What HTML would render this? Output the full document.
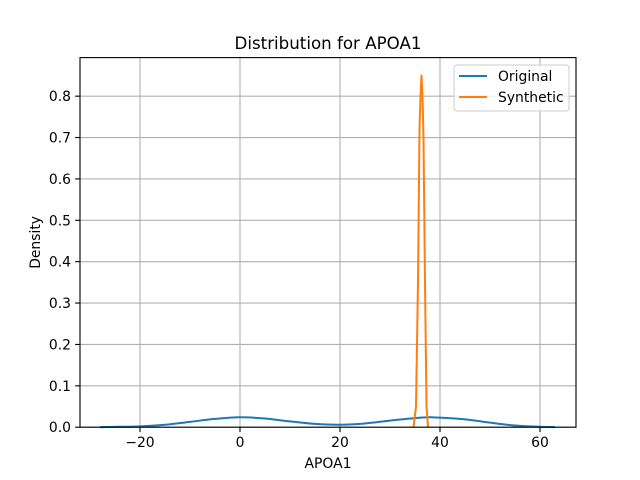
<!DOCTYPE html>
<html><head><meta charset="utf-8"><style>
body{margin:0;background:#fff}
svg{display:block;font-family:"DejaVu Sans","Liberation Sans",sans-serif}
</style></head><body>
<svg id="chart" width="640" height="480" xmlns="http://www.w3.org/2000/svg">
<rect width="640" height="480" fill="#fff"/>
<g id="grid"></g>
<g id="series"></g>
<rect x="80" y="57.6" width="496" height="369.6" fill="none" stroke="#000" stroke-width="1.1"/>
<g id="ticks"></g>
<text x="328" y="49" text-anchor="middle" font-size="16.67">Distribution for APOA1</text>
<text x="328" y="468" text-anchor="middle" font-size="13.9">APOA1</text>
<text transform="translate(40,242.4) rotate(-90)" text-anchor="middle" font-size="13.9">Density</text>
<g>
<rect x="454" y="65" width="115" height="46" rx="3" fill="#fff" fill-opacity="0.8" stroke="#ccc" stroke-width="1"/>
<g>
<line x1="459" y1="76" x2="487" y2="76" stroke="#1f77b4" stroke-width="2"/>
<text x="498" y="81" font-size="13.9">Original</text></g>
<g>
<line x1="459" y1="97" x2="487" y2="97" stroke="#ff7f0e" stroke-width="2"/>
<text x="498" y="102" font-size="13.9">Synthetic</text></g>
</g>
</svg>
<script>
const origX=[-28,-24,-20,-15,-10,-5,0,5,10,15,20,25,30,35,38,40,45,50,55,60,63];
const origY=[0.0003,0.001,0.002,0.006,0.013,0.020,0.024,0.021,0.014,0.008,0.006,0.009,0.016,0.022,0.024,0.023,0.019,0.011,0.004,0.001,0.0003];
const synX=[34.7,35.2,35.6,35.9,36.1,36.3,36.5,36.7,37.0,37.3,37.6];
const synY=[0,0.05,0.35,0.72,0.80,0.85,0.80,0.70,0.35,0.05,0];
const xTicks=[-20,0,20,40,60];
const yTicks=[0,0.1,0.2,0.3,0.4,0.5,0.6,0.7,0.8];
const NS="http://www.w3.org/2000/svg";
const L=80,R=576,T=57.6,B=427.2,XMIN=-32,XMAX=67.2,YMIN=0,YMAX=0.8932;
function sx(v){return L+(v-XMIN)/(XMAX-XMIN)*(R-L);}
function sy(v){return B-(v-YMIN)/(YMAX-YMIN)*(B-T);}
function mk(tag,attrs,parent){const e=document.createElementNS(NS,tag);for(const k in attrs)e.setAttribute(k,attrs[k]);parent.appendChild(e);return e;}
const grid=document.getElementById('grid'),ticks=document.getElementById('ticks'),series=document.getElementById('series');
xTicks.forEach(v=>{const x=sx(v);
 const g=mk('line',{x1:x,x2:x,y1:T,y2:B,stroke:'#b0b0b0','stroke-width':1.1},grid);
 
 
 mk('line',{x1:x,x2:x,y1:B,y2:B+4.9,stroke:'#000','stroke-width':1.1},ticks);
 const t=mk('text',{x:x,y:B+20,'text-anchor':'middle','font-size':13.9},ticks);
 t.textContent=(v<0?'\u2212'+(-v):String(v));
 
 });
yTicks.forEach(v=>{const y=sy(v);
 const g=mk('line',{x1:L,x2:R,y1:y,y2:y,stroke:'#b0b0b0','stroke-width':1.1},grid);
 
 
 mk('line',{x1:L-4.9,x2:L,y1:y,y2:y,stroke:'#000','stroke-width':1.1},ticks);
 const t=mk('text',{x:L-9,y:y+5,'text-anchor':'end','font-size':13.9},ticks);
 t.textContent=v.toFixed(1);
 
 });
function smoothPath(xs,ys){const p=xs.map((x,i)=>[sx(x),sy(ys[i])]);let d='M'+p[0][0]+','+p[0][1];
 for(let i=0;i<p.length-1;i++){const p0=p[Math.max(0,i-1)],p1=p[i],p2=p[i+1],p3=p[Math.min(p.length-1,i+2)];
  const c1=[p1[0]+(p2[0]-p0[0])/6,p1[1]+(p2[1]-p0[1])/6],c2=[p2[0]-(p3[0]-p1[0])/6,p2[1]-(p3[1]-p1[1])/6];
  d+=' C'+c1+' '+c2+' '+p2;}return d;}
const po=mk('path',{d:smoothPath(origX,origY),fill:'none',stroke:'#1f77b4','stroke-width':2},series);


const ps=mk('path',{d:'M'+synX.map((x,i)=>sx(x)+','+sy(synY[i])).join(' L'),fill:'none',stroke:'#ff7f0e','stroke-width':2,'stroke-linejoin':'round'},series);


</script>
</body></html>
